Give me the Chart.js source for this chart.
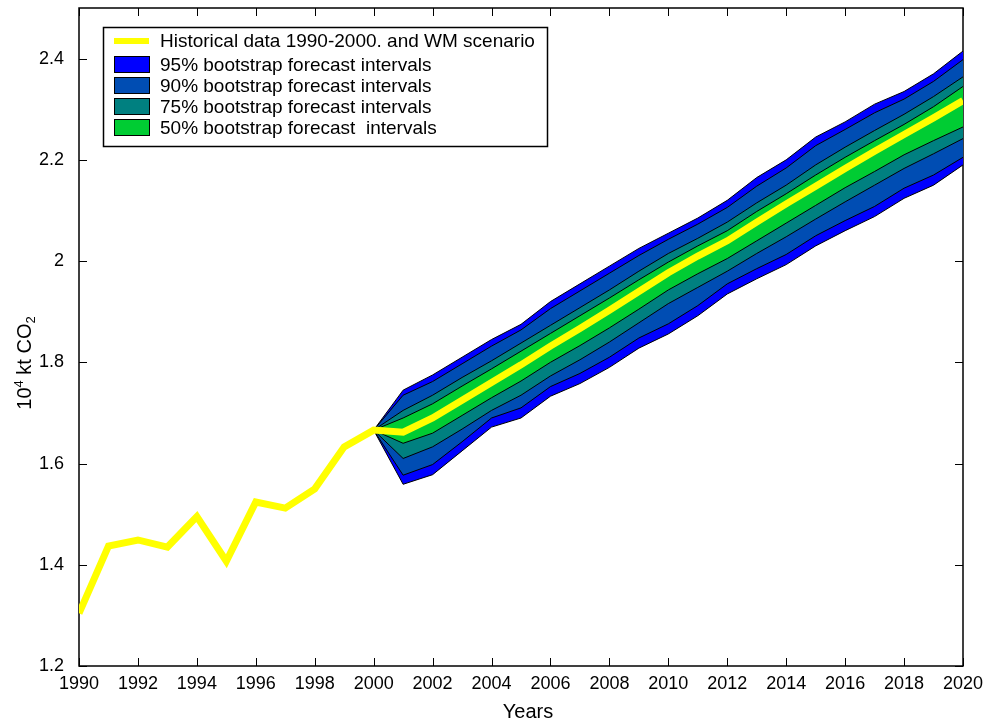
<!DOCTYPE html>
<html>
<head>
<meta charset="utf-8">
<script src="https://cdn.jsdelivr.net/npm/chart.js@4/dist/chart.umd.min.js"></script>
<style>
  html, body { margin: 0; padding: 0; background: #fff; }
  #wrap { width: 987px; height: 723px; }
</style>
</head>
<body>
<div id="wrap"><canvas id="c" width="987" height="723"></canvas></div>
<script>
// Historical CO2 emissions (10^4 kt)
const histYears  = [1990, 1991, 1992, 1993, 1994, 1995, 1996, 1997, 1998, 1999, 2000];
const histValues = [1.304, 1.437, 1.449, 1.435, 1.495, 1.407, 1.524, 1.512, 1.550, 1.633, 1.666];

// WM scenario and bootstrap forecast interval bounds
const fcYears    = [2000, 2001, 2002, 2003, 2004, 2005, 2006, 2007, 2008, 2009, 2010,
                    2011, 2012, 2013, 2014, 2015, 2016, 2017, 2018, 2019, 2020];
const wmScenario = [1.666, 1.662, 1.690, 1.725, 1.760, 1.795, 1.832, 1.867, 1.903, 1.940, 1.977,
                    2.010, 2.040, 2.077, 2.113, 2.148, 2.183, 2.217, 2.250, 2.283, 2.317];
const upper95    = [1.666, 1.745, 1.775, 1.810, 1.845, 1.875, 1.920, 1.955, 1.990, 2.025, 2.055,
                    2.085, 2.120, 2.165, 2.200, 2.245, 2.275, 2.310, 2.335, 2.370, 2.415];
const lower95    = [1.666, 1.559, 1.578, 1.625, 1.672, 1.690, 1.733, 1.758, 1.790, 1.828, 1.856,
                    1.892, 1.935, 1.965, 1.993, 2.030, 2.060, 2.088, 2.124, 2.150, 2.190];
const upper90    = [1.666, 1.735, 1.762, 1.797, 1.832, 1.864, 1.906, 1.941, 1.976, 2.011, 2.043,
                    2.073, 2.106, 2.148, 2.184, 2.228, 2.260, 2.293, 2.320, 2.355, 2.398];
const lower90    = [1.666, 1.577, 1.598, 1.643, 1.690, 1.710, 1.752, 1.778, 1.810, 1.848, 1.876,
                    1.912, 1.955, 1.985, 2.013, 2.050, 2.080, 2.108, 2.144, 2.170, 2.205];
const upper75    = [1.666, 1.705, 1.735, 1.770, 1.803, 1.838, 1.873, 1.908, 1.943, 1.980, 2.015,
                    2.045, 2.077, 2.115, 2.150, 2.190, 2.225, 2.258, 2.290, 2.325, 2.364];
const lower75    = [1.666, 1.610, 1.633, 1.668, 1.705, 1.735, 1.773, 1.805, 1.840, 1.878, 1.916,
                    1.948, 1.980, 2.015, 2.048, 2.083, 2.117, 2.150, 2.183, 2.212, 2.242];
const upper50    = [1.666, 1.690, 1.718, 1.753, 1.787, 1.822, 1.857, 1.892, 1.927, 1.963, 1.998,
                    2.030, 2.060, 2.098, 2.133, 2.170, 2.205, 2.238, 2.270, 2.305, 2.345];
const lower50    = [1.666, 1.640, 1.660, 1.695, 1.730, 1.763, 1.800, 1.833, 1.868, 1.905, 1.943,
                    1.975, 2.005, 2.040, 2.075, 2.110, 2.145, 2.177, 2.210, 2.238, 2.265];

// Axis ticks
const xTicks = [1990, 1992, 1994, 1996, 1998, 2000, 2002, 2004, 2006, 2008, 2010,
                2012, 2014, 2016, 2018, 2020];
const yTicks = [1.2, 1.4, 1.6, 1.8, 2.0, 2.2, 2.4];

const FONT = '"Liberation Sans", Arial, Helvetica, sans-serif';
const COL = {
  line: '#FFFF00',
  b95: '#0000FF',
  b90: '#004DB3',
  b75: '#008080',
  b50: '#00CC33'
};

const pts = (xs, ys) => xs.map((x, i) => ({ x: x, y: ys[i] }));

// Historical series continued by the WM scenario as one line
const lineXs = histYears.concat(fcYears.slice(1));
const lineYs = histValues.concat(wmScenario.slice(1));

function bandPair(label, up, lo, color, order) {
  const common = {
    borderColor: '#000',
    borderWidth: 1,
    pointRadius: 0,
    tension: 0,
    backgroundColor: color
  };
  return [
    Object.assign({ label: label, data: pts(fcYears, up), fill: '+1', order: order + 1 }, common),
    Object.assign({ label: label + ' (lower)', data: pts(fcYears, lo), fill: false, order: order }, common)
  ];
}

const datasets = [
  { label: 'Historical data 1990-2000. and WM scenario', data: pts(lineXs, lineYs),
    borderColor: COL.line, backgroundColor: COL.line, borderWidth: 7, pointRadius: 0,
    tension: 0, fill: false, order: 0, borderJoinStyle: 'miter', borderCapStyle: 'butt' },
  ...bandPair('95% bootstrap forecast intervals', upper95, lower95, COL.b95, 7),
  ...bandPair('90% bootstrap forecast intervals', upper90, lower90, COL.b90, 5),
  ...bandPair('75% bootstrap forecast intervals', upper75, lower75, COL.b75, 3),
  ...bandPair('50% bootstrap forecast  intervals', upper50, lower50, COL.b50, 1)
];

// Box frame with inward tick marks on all four sides
const framePlugin = {
  id: 'frame',
  beforeDatasetsDraw(chart) {
    const { ctx, chartArea: a, scales: { x, y } } = chart;
    ctx.save();
    ctx.strokeStyle = '#000';
    ctx.lineWidth = 1.5;
    ctx.strokeRect(a.left, a.top, a.right - a.left, a.bottom - a.top);
    ctx.lineWidth = 1;
    ctx.beginPath();
    const tl = 8;
    xTicks.forEach(v => {
      const px = Math.round(x.getPixelForValue(v)) + 0.5;
      ctx.moveTo(px, a.bottom); ctx.lineTo(px, a.bottom - tl);
      ctx.moveTo(px, a.top); ctx.lineTo(px, a.top + tl);
    });
    yTicks.forEach(v => {
      const py = Math.round(y.getPixelForValue(v)) + 0.5;
      ctx.moveTo(a.left, py); ctx.lineTo(a.left + tl, py);
      ctx.moveTo(a.right, py); ctx.lineTo(a.right - tl, py);
    });
    ctx.stroke();
    ctx.restore();
  }
};

// Axis titles and legend box
const annotPlugin = {
  id: 'annot',
  afterDraw(chart) {
    const { ctx } = chart;
    ctx.save();
    ctx.fillStyle = '#000';

    // x title
    ctx.font = '20px ' + FONT;
    ctx.textAlign = 'center';
    ctx.textBaseline = 'alphabetic';
    ctx.fillText('Years', 528, 718);

    // y title: 10^4 kt CO_2
    ctx.translate(31, 363);
    ctx.rotate(-Math.PI / 2);
    ctx.textAlign = 'left';
    const parts = [
      { t: '10', f: '20px ', dy: 0 },
      { t: '4', f: '13px ', dy: -8 },
      { t: ' kt CO', f: '20px ', dy: 0 },
      { t: '2', f: '13px ', dy: 4 }
    ];
    let total = 0;
    parts.forEach(p => { ctx.font = p.f + FONT; p.w = ctx.measureText(p.t).width; total += p.w; });
    let cx = -total / 2;
    parts.forEach(p => { ctx.font = p.f + FONT; ctx.fillText(p.t, cx, p.dy); cx += p.w; });
    ctx.restore();

    // legend
    ctx.save();
    const lx = 103.5, ly = 27.5, lw = 444, lh = 119;
    ctx.fillStyle = '#fff';
    ctx.fillRect(lx, ly, lw, lh);
    ctx.strokeStyle = '#000';
    ctx.lineWidth = 1.5;
    ctx.strokeRect(lx, ly, lw, lh);
    ctx.font = '19px ' + FONT;
    ctx.textAlign = 'left';
    ctx.textBaseline = 'middle';
    ctx.fillStyle = '#000';
    const entries = [
      { ds: datasets[0], cy: 41, kind: 'line' },
      { ds: datasets[1], cy: 64.5, kind: 'box' },
      { ds: datasets[3], cy: 85.5, kind: 'box' },
      { ds: datasets[5], cy: 106.5, kind: 'box' },
      { ds: datasets[7], cy: 127.5, kind: 'box' }
    ];
    entries.forEach(e => {
      if (e.kind === 'line') {
        ctx.strokeStyle = e.ds.borderColor;
        ctx.lineWidth = 6;
        ctx.beginPath();
        ctx.moveTo(114, e.cy); ctx.lineTo(149, e.cy);
        ctx.stroke();
      } else {
        ctx.fillStyle = e.ds.backgroundColor;
        ctx.fillRect(114.5, e.cy - 8, 35, 16);
        ctx.strokeStyle = '#000';
        ctx.lineWidth = 1;
        ctx.strokeRect(114.5, e.cy - 8, 35, 16);
      }
      ctx.fillStyle = '#000';
      ctx.fillText(e.ds.label, 160, e.cy + 1);
    });
    ctx.restore();
  }
};

new Chart(document.getElementById('c'), {
  type: 'line',
  data: { datasets: datasets },
  options: {
    responsive: false,
    animation: false,
    events: [],
    layout: { padding: { left: 0, right: 24, top: 8, bottom: 0 } },
    plugins: {
      legend: { display: false },
      tooltip: { enabled: false },
      filler: { propagate: false }
    },
    scales: {
      x: {
        type: 'linear',
        min: 1990,
        max: 2020,
        grid: { display: false },
        border: { display: false },
        afterBuildTicks: s => { s.ticks = xTicks.map(v => ({ value: v })); },
        afterFit: s => { s.height = 57; s.paddingLeft = 0; s.paddingRight = 0; },
        ticks: {
          color: '#000',
          font: { family: FONT, size: 18 },
          padding: -1,
          maxRotation: 0,
          autoSkip: false,
          callback: v => String(v)
        }
      },
      y: {
        type: 'linear',
        min: 1.2,
        max: 2.5,
        grid: { display: false },
        border: { display: false },
        afterBuildTicks: s => { s.ticks = yTicks.map(v => ({ value: v })); },
        afterFit: s => { s.width = 79; s.paddingTop = 0; s.paddingBottom = 0; },
        ticks: {
          color: '#000',
          font: { family: FONT, size: 18 },
          padding: 7,
          autoSkip: false,
          callback: v => String(+Number(v).toFixed(1))
        }
      }
    }
  },
  plugins: [framePlugin, annotPlugin]
});
</script>
</body>
</html>
